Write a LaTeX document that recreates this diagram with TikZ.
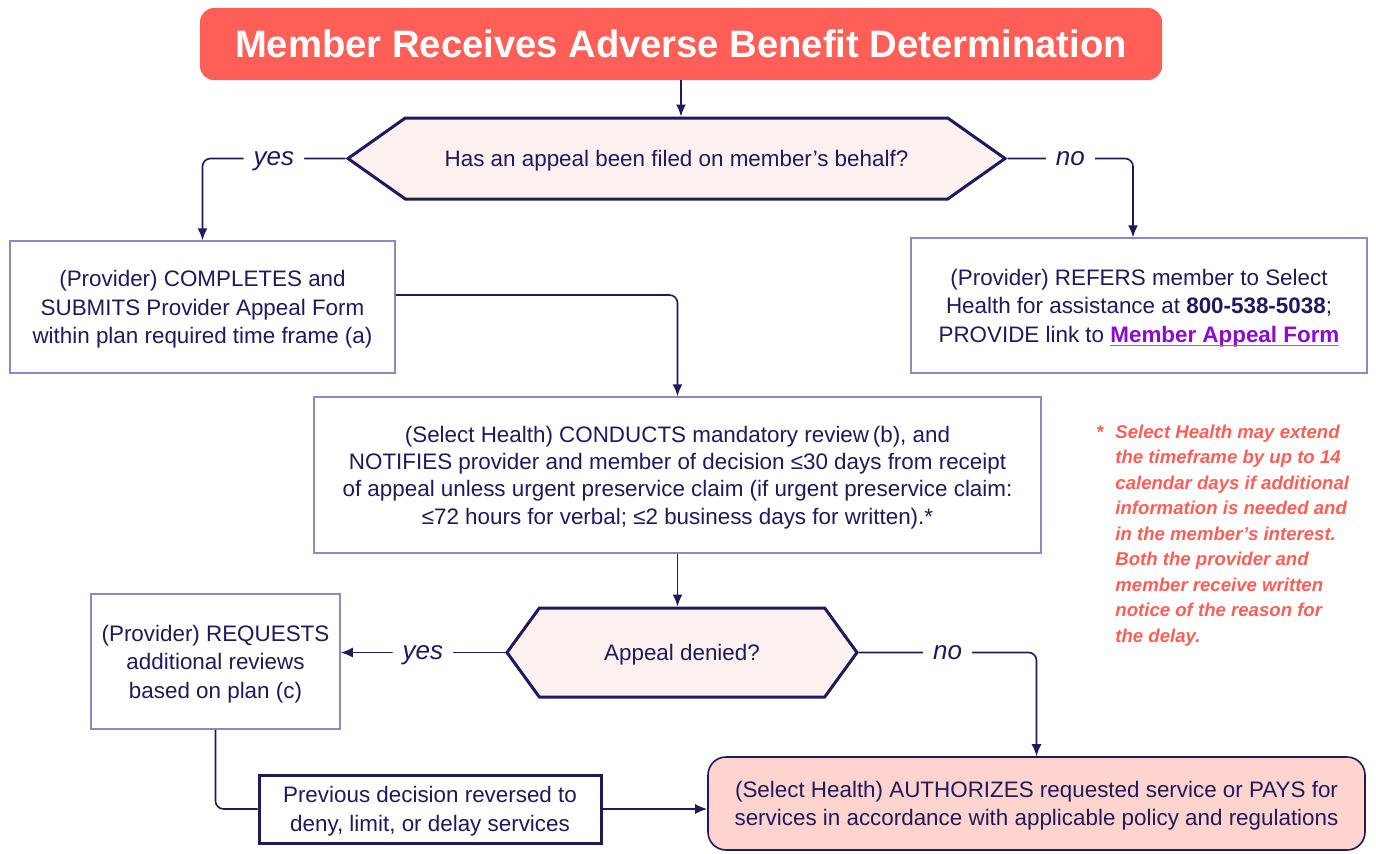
\documentclass[tikz,border=0pt]{standalone}
\usepackage{fontspec}
\setmainfont{Liberation Sans}
\usetikzlibrary{calc,arrows.meta,positioning,shapes.symbols}
\definecolor{navy}{HTML}{1E1A5C}
\definecolor{coral}{HTML}{FF5F57}
\definecolor{hexpink}{HTML}{FDF1F0}
\definecolor{paypink}{HTML}{FFD4CE}
\definecolor{lilac}{HTML}{8E8ABF}
\definecolor{linkpurple}{HTML}{8A0BD4}
\newlength\linkwd
\newcommand\formlink[1]{\settowidth\linkwd{\textbf{#1}}\textcolor{linkpurple}{\textbf{#1}}\llap{\textcolor{gray}{\rule[-2.2pt]{\linkwd}{0.9pt}}}}

\begin{document}
\begin{tikzpicture}[x=0.5pt,y=-0.5pt,>={Latex[length=6pt,width=5pt]}]

\tikzset{bodytext/.style={font=\fontsize{11.2}{14.2}\selectfont,text=navy,align=center,inner sep=0pt,text depth=0pt},
plainbox/.style={bodytext,draw=lilac,line width=0.75pt,fill=white},
askbox/.style={bodytext,shape=signal,signal to=west and east,draw=navy,line width=1.5pt,fill=hexpink},
flow/.style={draw=navy,line width=0.8pt,rounded corners=4pt},
answer/.style={font=\fontsize{13}{13}\selectfont\itshape,text=navy,fill=white,inner xsep=5pt,inner ysep=0pt,text height=9.5pt,text depth=2.7pt}}

\useasboundingbox (0,0) rectangle (1376,853);

% Start
\node[fill=coral,rounded corners=7pt,minimum width=481pt,minimum height=36pt,text=white,font=\fontsize{19.1}{20}\selectfont\bfseries] (titleBox) at (681,44) {Member Receives Adverse Benefit Determination};

% Questions
\node[askbox,signal pointer angle=70.5,minimum width=328.5pt,minimum height=40.5pt] (askFiled) at (676.5,158.5) {Has an appeal been filed on member’s behalf?};
\node[askbox,signal pointer angle=108,minimum width=175pt,minimum height=44.5pt] (askDenied) at (682,652.5) {Appeal denied?};

% Steps
\node[plainbox,minimum width=192.5pt,minimum height=66pt] (provForm) at (202.5,307) {(Provider) COMPLETES and\\SUBMITS Provider Appeal Form\\within plan required time frame (a)};
\node[plainbox,minimum width=228pt,minimum height=67.5pt] (referMember) at (1139,305.5) {(Provider) REFERS member to Select\\Health for assistance at \textbf{800-538-5038};\\PROVIDE link to \formlink{Member Appeal Form}};
\node[plainbox,font=\fontsize{11.2}{13.7}\selectfont,minimum width=363.5pt,minimum height=78pt] (review) at (677.5,475) {(Select Health) CONDUCTS mandatory review\,(b), and\\NOTIFIES provider and member of decision ≤30 days from receipt\\of appeal unless urgent preservice claim (if urgent preservice claim:\\≤72 hours for verbal; ≤2 business days for written).*};
\node[plainbox,minimum width=124.5pt,minimum height=67.5pt] (moreReview) at (215.5,661.5) {(Provider) REQUESTS\\additional reviews\\based on plan (c)};
\node[bodytext,draw=navy,line width=1.5pt,fill=white,minimum width=171pt,minimum height=34pt] (reversed) at (430,809) {Previous decision reversed to\\deny, limit, or delay services};
\node[bodytext,draw=navy,line width=0.8pt,fill=paypink,rounded corners=9pt,minimum width=328.5pt,minimum height=46.5pt] (authorize) at (1036.5,803.5) {(Select Health) AUTHORIZES requested service or PAYS for\\services in accordance with applicable policy and regulations};

% Footnote
\node[anchor=base west,align=left,text=coral,font=\fontsize{9.3}{12.75}\selectfont\bfseries\itshape,inner sep=0pt] (delayNote) at (1115,642) {\llap{*\hspace{6pt}}Select Health may extend\\the timeframe by up to 14\\calendar days if additional\\information is needed and\\in the member’s interest.\\Both the provider and\\member receive written\\notice of the reason for\\the delay.};

% Connectors
\draw[flow,->] (titleBox.south) -- (titleBox.south |- askFiled.north);
\draw[flow,->] (askFiled.west) -| node[answer,pos=0.25] {yes} (provForm.north);
\draw[flow,->] (askFiled.east) -| node[answer,pos=0.25] {no} ([xshift=-3pt]referMember.north);
\draw[flow,->] ([yshift=6pt]provForm.east) -| (review.north);
\draw[flow,->] (review.south) -- (review.south |- askDenied.north);
\draw[flow,->] (askDenied.west) -- node[answer] {yes} (askDenied.west -| moreReview.east);
\draw[flow,->] (askDenied.east) -| node[answer,pos=0.25] {no} (authorize.north);
\draw[flow] (moreReview.south) |- (reversed.west);
\draw[flow,->] (reversed.east) -- (reversed.east -| authorize.west);

\end{tikzpicture}
\end{document}
